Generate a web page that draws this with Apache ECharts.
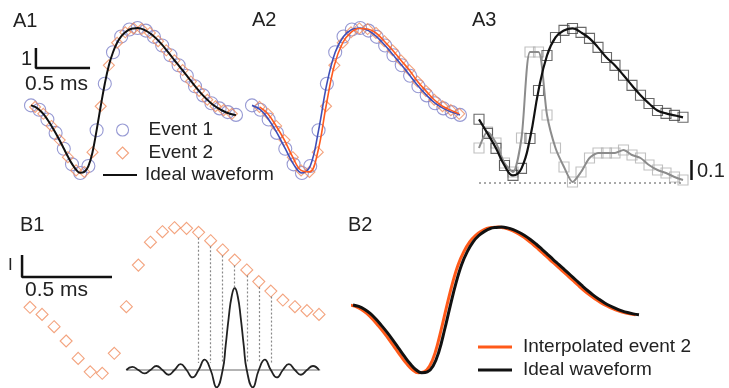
<!DOCTYPE html>
<html>
<head>
<meta charset="utf-8">
<script src="https://cdn.jsdelivr.net/npm/echarts@6/dist/echarts.min.js"></script>
<style>
html, body { margin: 0; padding: 0; background: #fff; }
#main { width: 729px; height: 388px; }
</style>
</head>
<body>
<div id="main"></div>
<script>
// sample index axis (1 sample ~ 0.067 ms)
var tEvent2 = [0,1,2,3,4,5,6,7,8,9,10,11,12,13,14,15,16,17,18,19,20,21,22,23,24];
var event2 = [1.03,0.71,0.15,-0.50,-1.29,-1.90,-1.97,-1.06,1.06,2.95,3.99,4.47,4.65,4.62,4.44,4.06,3.64,3.18,2.73,2.20,1.77,1.36,1.06,0.88,0.71];

var tEvent1 = [-0.5,0.5,1.5,2.5,3.5,4.5,5.5,6.5,7.5,8.5,9.5,10.5,11.5,12.5,13.5,14.5,15.5,16.5,17.5,18.5,19.5,20.5,21.5,22.5,23.5,24.5];
var event1 = [1.10,0.90,0.45,-0.17,-0.90,-1.62,-2.02,-1.70,-0.05,2.10,3.55,4.28,4.60,4.67,4.55,4.26,3.86,3.41,2.95,2.47,1.98,1.56,1.20,0.96,0.79,0.66];

var idealT = [-0.5,0,0.5,1,1.5,2,2.5,3,3.5,4,4.5,5,5.5,6,6.5,7,7.5,8,8.5,9,9.5,10,10.5,11,11.5,12,
              12.5,13,13.5,14,14.5,15,15.5,16,16.5,17,17.5,18,18.5,19,19.5,20,20.5,21,21.5,22,22.5,23,23.5,24,24.5];
var ideal = [1.10,1.03,0.90,0.71,0.45,0.15,-0.17,-0.52,-0.89,-1.26,-1.60,-1.87,-2.01,-1.97,-1.70,-1.06,-0.05,1.06,2.10,2.95,3.55,3.99,4.28,4.47,4.60,4.65,
             4.67,4.63,4.55,4.43,4.28,4.10,3.89,3.66,3.42,3.18,2.95,2.71,2.47,2.23,1.99,1.76,1.55,1.36,1.19,1.05,0.93,0.83,0.75,0.69,0.65];

// A3: sampled waveform and residual (grey)
var a3Black = [0.55,-0.09,-0.77,-1.55,-2.00,-1.68,-0.32,1.86,3.45,4.27,4.59,4.68,4.50,4.23,3.82,3.36,3.00,2.55,2.09,1.64,1.27,0.95,0.82,0.73,0.64];
var a3Gray = [0.175,0.255,0.20,0.10,0.055,0.225,0.655,0.655,0.34,0.175,0.08,0.005,0.055,0.125,0.15,0.15,0.15,0.165,0.14,0.125,0.09,0.065,0.05,0.03,0.015];

// B1: interpolation kernel around sample 17
var sincCenter = 17;
var sincOffset = [-9,-8.5,-8,-7.5,-7,-6.5,-6,-5.5,-5,-4.5,-4,-3.5,-3,-2.5,-2,-1.5,-1,-0.75,-0.5,-0.25,0,
                  0.25,0.5,0.75,1,1.5,2,2.5,3,3.5,4,4.5,5,5.5,6,6.5,7];
var sincValue = [0,0.037,0,-0.042,0,0.049,0,-0.058,0,0.071,0,-0.091,0,0.127,0,-0.212,0,0.300,0.637,0.900,1,
                 0.900,0.637,0.300,0,-0.212,0,0.127,0,-0.091,0,0.071,0,-0.058,0,0.049,0];
var dotIdx = [14,15,16,17,18,19,20];

// lags between traces
var a2Lag = 0.4;
var b2Lead = -0.3;

// scale bars
var scaleA1 = [[0.1,3.75],[0.1,2.82],[6.7,2.82]];
var scaleB1 = [[-0.66,3.41],[-0.66,2.41],[6.81,2.41]];
var scaleA3 = [[25,0.015],[25,0.115]];

var FONT = '"Liberation Sans", Arial, sans-serif';
var C_E1 = '#7c80c8', C_E2 = '#f08c5e', C_BLUE = '#3f4fb8', C_ORANGE = '#ff5a1e';

function pairs(xs, ys) {
    return xs.map(function (x, i) { return [x, ys[i]]; });
}

var myChart = echarts.init(document.getElementById('main'));

var grids = [
    {left: 31, top: 28, width: 205, height: 145},        // A1
    {left: 252, top: 28, width: 208, height: 145},       // A2
    {left: 479, top: 28, width: 216.75, height: 147.4},  // A3 black
    {left: 479, top: 28, width: 216.75, height: 155},    // A3 grey
    {left: 17.96, top: 226.6, width: 301.04, height: 147.4}, // B1
    {left: 17.96, top: 288, width: 301.04, height: 82},  // B1 kernel
    {left: 353, top: 227, width: 286, height: 146}       // B2
];
var xr = [[-0.5,24.5],[-0.5,24.5],[0,25.5],[0,25.5],[-1,24],[-1,24],[-0.5,24.5]];
var yr = [[-2.02,4.67],[-2.02,4.67],[-2,4.7],[0,0.775],[-2,4.7],[0,1],[-2.02,4.67]];

var xAxes = [], yAxes = [];
grids.forEach(function (g, i) {
    xAxes.push({type: 'value', gridIndex: i, min: xr[i][0], max: xr[i][1], show: false});
    yAxes.push({type: 'value', gridIndex: i, min: yr[i][0], max: yr[i][1], show: false});
});

function hollow(name, gi, symbol, size, color, data, z) {
    return {
        name: name, type: 'scatter', xAxisIndex: gi, yAxisIndex: gi,
        symbol: symbol, symbolSize: size, clip: false, z: z || 2,
        itemStyle: {color: 'rgba(0,0,0,0)', borderColor: color, borderWidth: 1.1},
        data: data
    };
}
function curve(name, gi, color, width, data, smooth, extra) {
    var s = {
        name: name, type: 'line', xAxisIndex: gi, yAxisIndex: gi,
        showSymbol: false, symbol: 'none', smooth: smooth, clip: false, z: 3,
        lineStyle: {color: color, width: width},
        itemStyle: {color: color},
        data: data
    };
    if (extra) Object.keys(extra).forEach(function (k) { s[k] = extra[k]; });
    return s;
}

var dotLines = dotIdx.map(function (t) {
    var bottom = (t === sincCenter) ? 1.91 : -1.5;
    return [{coord: [t, event2[t] - 0.25]}, {coord: [t, bottom]}];
});

var series = [
    // A1
    hollow('Event 1', 0, 'circle', 13, C_E1, pairs(tEvent1, event1)),
    hollow('Event 2', 0, 'diamond', 11, C_E2, pairs(tEvent2, event2)),
    curve('Ideal waveform', 0, '#111', 2, pairs(idealT, ideal), 0.4),
    curve('', 0, '#111', 2.5, scaleA1, false),
    // A2
    hollow('Event 1', 1, 'circle', 13, C_E1, pairs(tEvent1, event1)),
    hollow('Event 2', 1, 'diamond', 11, C_E2, pairs(tEvent2.map(function (t) { return t + a2Lag; }), event2)),
    curve('', 1, C_BLUE, 1.6, pairs(tEvent1, event1), 0.4),
    curve('', 1, C_ORANGE, 1.6, pairs(tEvent2.map(function (t) { return t + a2Lag; }), event2), 0.4),
    // A3
    hollow('', 3, 'rect', 10, '#b0b0b0', pairs(tEvent2, a3Gray)),
    curve('', 3, '#8c8c8c', 2, pairs(tEvent2, a3Gray), 0.25),
    curve('', 3, '#555', 1, [[0, 0], [24, 0]], false, {lineStyle: {color: '#555', width: 1, type: [2, 3]}}),
    curve('', 3, '#111', 2.5, scaleA3, false),
    hollow('', 2, 'rect', 10, '#444', pairs(tEvent2, a3Black)),
    curve('', 2, '#111', 2.2, pairs(tEvent2, a3Black), 0.45),
    // B1
    hollow('', 4, 'diamond', 12, C_E2, pairs(tEvent2, event2)),
    curve('', 4, '#111', 2.5, scaleB1, false, {
        markLine: {
            silent: true, symbol: ['none', 'none'], label: {show: false},
            lineStyle: {color: '#888', width: 1.2, type: [2, 2]},
            data: dotLines
        }
    }),
    curve('', 5, '#9a9a9a', 1.5, [[8, 0], [24.1, 0]], false),
    curve('', 5, '#222', 1.8, pairs(sincOffset.map(function (o) { return o + sincCenter; }), sincValue), 0.5),
    // B2
    curve('Interpolated event 2', 6, '#ff5a1a', 3, pairs(idealT.map(function (t) { return t + b2Lead; }), ideal), 0.4),
    curve('Ideal waveform', 6, '#111', 3, pairs(idealT, ideal), 0.4)
];

var legendText = {fontSize: 19, fontFamily: FONT, color: '#222', lineHeight: 23};

function txt(s, x, y, size) {
    return {
        type: 'text', x: x, y: y, silent: true,
        style: {text: s, font: (size || 20) + 'px ' + FONT, fill: '#222', verticalAlign: 'middle'}
    };
}

var option = {
    animation: false,
    backgroundColor: '#fff',
    grid: grids,
    xAxis: xAxes,
    yAxis: yAxes,
    legend: [{
        left: 116, top: 118.5, orient: 'vertical', padding: 0, itemGap: 0,
        itemWidth: 12, itemHeight: 12, selectedMode: false,
        textStyle: Object.assign({padding: [0, 0, 0, 15]}, legendText),
        data: [
            {name: 'Event 1', icon: 'circle', itemStyle: {color: 'rgba(0,0,0,0)', borderColor: C_E1, borderWidth: 1.1}},
            {name: 'Event 2', icon: 'diamond', itemStyle: {color: 'rgba(0,0,0,0)', borderColor: C_E2, borderWidth: 1.1}}
        ]
    }, {
        left: 103, top: 163.5, orient: 'vertical', padding: 0, itemGap: 0,
        itemWidth: 34, itemHeight: 2, selectedMode: false,
        textStyle: Object.assign({padding: [0, 0, 0, 3]}, legendText),
        data: [{name: 'Ideal waveform', icon: 'rect', itemStyle: {color: '#111', borderWidth: 0}}]
    }, {
        left: 478, top: 335.5, orient: 'vertical', padding: 0, itemGap: 0,
        itemWidth: 34, itemHeight: 3, selectedMode: false,
        textStyle: Object.assign({padding: [0, 0, 0, 6]}, legendText),
        data: [
            {name: 'Interpolated event 2', icon: 'rect', itemStyle: {color: '#ff5a1a', borderWidth: 0}},
            {name: 'Ideal waveform', icon: 'rect', itemStyle: {color: '#111', borderWidth: 0}}
        ]
    }],
    graphic: [
        txt('A1', 13, 21), txt('A2', 252, 20), txt('A3', 472, 20),
        txt('B1', 20, 225), txt('B2', 348, 225),
        txt('1', 21, 59), txt('0.5 ms', 25, 84, 21),
        txt('I', 8, 265, 17), txt('0.5 ms', 25, 290, 21),
        txt('0.1', 697, 171)
    ],
    series: series
};

myChart.setOption(option);
</script>
</body>
</html>
